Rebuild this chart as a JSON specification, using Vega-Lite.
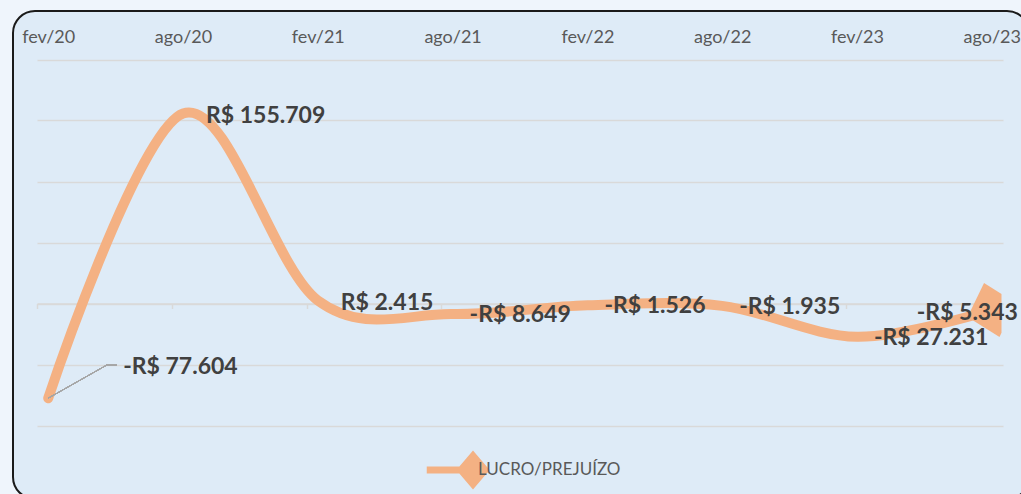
{
  "$schema": "https://vega.github.io/schema/vega-lite/v6.json",
  "width": 1016,
  "height": 488,
  "padding": {"left": 13, "top": 11, "right": 0, "bottom": 0},
  "autosize": {"type": "none"},
  "background": "#EFF5FC",
  "config": {
    "view": {"fill": "#DEEBF7", "stroke": "#1A1A1A", "strokeWidth": 2, "cornerRadius": 22},
    "locale": {"number": {"decimal": ",", "thousands": ".", "grouping": [3], "currency": ["R$ ", ""], "minus": "-"}},
    "font": "Lato"
  },
  "data": {"values": [
    {"m": 0, "mes": "fev/20", "v": -77604},
    {"m": 6, "mes": "ago/20", "v": 155709},
    {"m": 12, "mes": "fev/21", "v": 2415},
    {"m": 18, "mes": "ago/21", "v": -8649},
    {"m": 24, "mes": "fev/22", "v": -1526},
    {"m": 30, "mes": "ago/22", "v": -1935},
    {"m": 36, "mes": "fev/23", "v": -27231},
    {"m": 42, "mes": "ago/23", "v": -5343}
  ]},
  "resolve": {"axis": {"x": "independent", "y": "independent"}},
  "layer": [
    {
      "mark": {"type": "line", "interpolate": "cardinal", "strokeWidth": 10, "strokeCap": "round", "strokeJoin": "round"},
      "encoding": {
        "x": {"field": "m", "type": "quantitative",
          "scale": {"domain": [-0.5, 42.5], "range": [24, 990], "zero": false, "nice": false},
          "axis": {"orient": "top", "values": [0, 6, 12, 18, 24, 30, 36, 42],
            "labelExpr": "['fev/20','ago/20','fev/21','ago/21','fev/22','ago/22','fev/23','ago/23'][round(datum.value/6)]",
            "domain": false, "ticks": false, "grid": false, "labelPadding": 0, "offset": -31,
            "labelBaseline": "alphabetic", "labelFont": "Lato", "labelFontSize": 18, "labelColor": "#595959",
            "labelFlush": false, "labelOverlap": false, "title": null}},
        "y": {"field": "v", "type": "quantitative",
          "scale": {"domain": [-100000, 200000], "range": [414.5, 48.5], "zero": false, "nice": false},
          "axis": {"values": [-100000, -50000, 0, 50000, 100000, 150000, 200000], "labels": false, "ticks": false,
            "domain": false, "grid": true, "gridColor": "#D9D9D9", "gridWidth": 1.5, "title": null}},
        "color": {"datum": "LUCRO/PREJUÍZO", "type": "nominal",
          "scale": {"range": ["#F4B183"]},
          "legend": {"title": null, "orient": "none", "legendX": 438, "legendY": 437, "padding": 0,
            "symbolType": "M-2.5,0H0M-0.65,0L0,-0.76L0.65,0L0,0.76Z", "symbolSize": 1369,
            "symbolStrokeWidth": 7, "symbolFillColor": "#F4B183",
            "labelFont": "Lato", "labelFontSize": 17, "labelColor": "#595959", "labelOffset": -17,
            "encode": {"symbols": {"update": {"fill": {"value": "#F4B183"}, "stroke": {"value": "#F4B183"}, "strokeWidth": {"value": 7}, "opacity": {"value": 1}}}}}}
      }
    },
    {
      "transform": [{"filter": "datum.m == 42"}],
      "mark": {"type": "point", "filled": true, "shape": "M-0.276,-0.961L0.348,-0.571L0.348,0.812L0.276,0.961L-0.864,0.248Z", "size": 3136, "color": "#F4B183", "opacity": 1, "strokeWidth": 0},
      "encoding": {
        "x": {"field": "m", "type": "quantitative", "scale": {"domain": [-0.5, 42.5], "range": [24, 990], "zero": false, "nice": false}, "axis": null},
        "y": {"field": "v", "type": "quantitative", "scale": {"domain": [-100000, 200000], "range": [414.5, 48.5], "zero": false, "nice": false}, "axis": null}
      }
    },
    {
      "mark": {"type": "rule", "color": "#A6A6A6", "strokeWidth": 1},
      "encoding": {
        "x": {"datum": 0, "type": "quantitative", "scale": {"domain": [-0.5, 42.5], "range": [24, 990], "zero": false, "nice": false},
          "axis": {"orient": "bottom", "offset": -195.5, "values": [-0.5, 5.5, 11.5, 17.5, 23.5, 29.5, 35.5, 41.5],
            "labels": false, "grid": false, "domain": true, "domainColor": "#D9D9D9", "domainWidth": 1.5,
            "ticks": true, "tickSize": 5, "tickColor": "#D9D9D9", "tickWidth": 1.5, "title": null}},
        "y": {"datum": -77604, "type": "quantitative", "scale": {"domain": [-100000, 200000], "range": [414.5, 48.5], "zero": false, "nice": false}, "axis": null},
        "x2": {"datum": 2.61},
        "y2": {"datum": -50410}
      }
    },
    {
      "mark": {"type": "rule", "color": "#A6A6A6", "strokeWidth": 1},
      "encoding": {
        "x": {"datum": 2.61, "type": "quantitative", "scale": {"domain": [-0.5, 42.5], "range": [24, 990], "zero": false, "nice": false}, "axis": null},
        "y": {"datum": -50410, "type": "quantitative", "scale": {"domain": [-100000, 200000], "range": [414.5, 48.5], "zero": false, "nice": false}, "axis": null},
        "x2": {"datum": 3.06}
      }
    },
    {
      "transform": [{"filter": "datum.v >= 0"}],
      "mark": {"type": "text", "align": "left", "baseline": "middle", "dx": 23, "dy": 2, "font": "Lato", "fontWeight": "bold", "fontSize": 23, "color": "#404040"},
      "encoding": {
        "x": {"field": "m", "type": "quantitative", "scale": {"domain": [-0.5, 42.5], "range": [24, 990], "zero": false, "nice": false}, "axis": null},
        "y": {"field": "v", "type": "quantitative", "scale": {"domain": [-100000, 200000], "range": [414.5, 48.5], "zero": false, "nice": false}, "axis": null},
        "text": {"field": "v", "type": "quantitative", "format": "$,.0f"}
      }
    },
    {
      "transform": [{"filter": "datum.v < 0 && datum.m > 0 && datum.m < 42"}],
      "mark": {"type": "text", "align": "left", "baseline": "middle", "dx": 17, "dy": 1, "font": "Lato", "fontWeight": "bold", "fontSize": 23, "color": "#404040"},
      "encoding": {
        "x": {"field": "m", "type": "quantitative", "scale": {"domain": [-0.5, 42.5], "range": [24, 990], "zero": false, "nice": false}, "axis": null},
        "y": {"field": "v", "type": "quantitative", "scale": {"domain": [-100000, 200000], "range": [414.5, 48.5], "zero": false, "nice": false}, "axis": null},
        "text": {"field": "v", "type": "quantitative", "format": "$,.0f"}
      }
    },
    {
      "transform": [{"filter": "datum.m == 0"}],
      "mark": {"type": "text", "align": "left", "baseline": "middle", "dx": 75, "dy": -31, "font": "Lato", "fontWeight": "bold", "fontSize": 23, "color": "#404040"},
      "encoding": {
        "x": {"field": "m", "type": "quantitative", "scale": {"domain": [-0.5, 42.5], "range": [24, 990], "zero": false, "nice": false}, "axis": null},
        "y": {"field": "v", "type": "quantitative", "scale": {"domain": [-100000, 200000], "range": [414.5, 48.5], "zero": false, "nice": false}, "axis": null},
        "text": {"field": "v", "type": "quantitative", "format": "$,.0f"}
      }
    },
    {
      "transform": [{"filter": "datum.m == 42"}],
      "mark": {"type": "text", "align": "left", "baseline": "middle", "dx": -75, "dy": 3, "font": "Lato", "fontWeight": "bold", "fontSize": 23, "color": "#404040"},
      "encoding": {
        "x": {"field": "m", "type": "quantitative", "scale": {"domain": [-0.5, 42.5], "range": [24, 990], "zero": false, "nice": false}, "axis": null},
        "y": {"field": "v", "type": "quantitative", "scale": {"domain": [-100000, 200000], "range": [414.5, 48.5], "zero": false, "nice": false}, "axis": null},
        "text": {"field": "v", "type": "quantitative", "format": "$,.0f"}
      }
    }
  ]
}
